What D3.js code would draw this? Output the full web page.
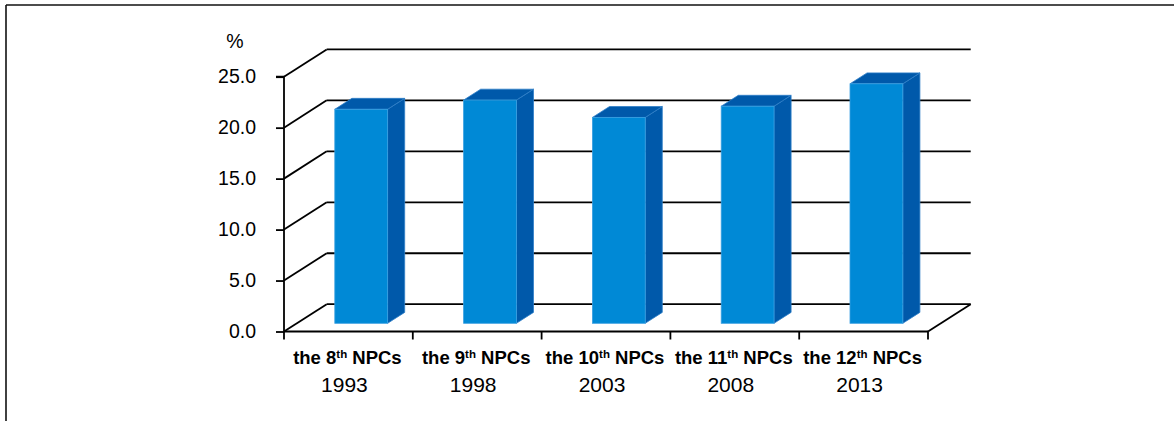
<!DOCTYPE html>
<html>
<head>
<meta charset="utf-8">
<script src="https://cdn.jsdelivr.net/npm/d3@7"></script>
<style>
  html, body { margin: 0; padding: 0; background: #fff; }
  svg { display: block; }
  text { font-family: "Liberation Sans", Arial, sans-serif; fill: #000; }
</style>
</head>
<body>
<svg id="chart" width="1174" height="421"></svg>
<script>
// ---- data ----
const ordinals = ["8", "9", "10", "11", "12"];
const years = ["1993", "1998", "2003", "2008", "2013"];
const values = [21.0, 21.9, 20.2, 21.3, 23.5];
const yTicks = [0, 5, 10, 15, 20, 25];
const yUnit = "%";

// ---- layout ----
const svg = d3.select("#chart");
const W = 1174, H = 421;
const plotLeft = 284, plotRight = 928, plotBottom = 331.5, plotTop = 76.7;
const DX = 42.7, DY = 27.3;          // depth vector of the back wall
const fFront = 0.3, fBack = 0.7;      // bar depth positions
const barFrac = 0.41;

const x = d3.scaleBand().domain(d3.range(values.length)).range([plotLeft, plotRight]).padding(0);
const y = d3.scaleLinear().domain([0, 25]).range([plotBottom, plotTop]);

// outer frame
svg.append("line").attr("x1", 6).attr("y1", 5).attr("x2", W).attr("y2", 5)
  .attr("stroke", "#111").attr("stroke-width", 1.6);
svg.append("line").attr("x1", 6).attr("y1", 5).attr("x2", 6).attr("y2", H)
  .attr("stroke", "#111").attr("stroke-width", 1.6);

const gridG = svg.append("g").attr("stroke", "#000").attr("stroke-width", 1.8).attr("fill", "none");
// back wall gridlines + side wall diagonals
yTicks.forEach(t => {
  const yy = y(t);
  gridG.append("line").attr("x1", plotLeft + DX).attr("y1", yy - DY).attr("x2", plotRight + DX).attr("y2", yy - DY);
  gridG.append("line").attr("x1", plotLeft).attr("y1", yy).attr("x2", plotLeft + DX).attr("y2", yy - DY);
});
// floor front and right edges
gridG.append("line").attr("x1", plotLeft).attr("y1", y(0)).attr("x2", plotRight).attr("y2", y(0));
gridG.append("line").attr("x1", plotRight).attr("y1", y(0)).attr("x2", plotRight + DX).attr("y2", y(0) - DY);

// y axis
const yAxis = d3.axisLeft(y).tickValues(yTicks).tickSize(8).tickPadding(20).tickFormat(d3.format(".1f"));
const yg = svg.append("g").attr("transform", `translate(${plotLeft},0)`).call(yAxis);
yg.select(".domain").attr("stroke", "#000").attr("stroke-width", 1.8).attr("d", `M-8,${y(25)}H0V${y(0)}`);
yg.selectAll(".tick line").attr("stroke", "#000").attr("stroke-width", 1.8);
yg.selectAll(".tick text").style("font-size", "19.5px").style("font-family", "Liberation Sans, Arial, sans-serif").attr("fill", "#000");

svg.append("text").attr("x", 235).attr("y", 48).attr("text-anchor", "middle")
  .style("font-size", "19.5px").text(yUnit);

// x axis ticks
const xg = svg.append("g").attr("stroke", "#000").attr("stroke-width", 1.8);
d3.range(values.length + 1).forEach(i => {
  const xx = i < values.length ? x(i) : x(values.length - 1) + x.bandwidth();
  xg.append("line").attr("x1", xx).attr("y1", y(0)).attr("x2", xx).attr("y2", y(0) + 8);
});

// bars
const bw = x.bandwidth() * barFrac;
const barG = svg.append("g");
values.forEach((v, i) => {
  const cx = x(i) + x.bandwidth() / 2;
  const x0 = cx - bw / 2, x1 = cx + bw / 2;
  const fdx = DX * fFront, fdy = DY * fFront, bdx = DX * fBack, bdy = DY * fBack;
  const yv = y(v), y0 = y(0);
  // side face
  barG.append("polygon")
    .attr("points", [[x1 + fdx, yv - fdy], [x1 + bdx, yv - bdy], [x1 + bdx, y0 - bdy], [x1 + fdx, y0 - fdy]].map(p => p.join(",")).join(" "))
    .attr("fill", "#0059AA").attr("stroke", "#2f7fc8").attr("stroke-width", 0.8);
  // top face
  barG.append("polygon")
    .attr("points", [[x0 + fdx, yv - fdy], [x0 + bdx, yv - bdy], [x1 + bdx, yv - bdy], [x1 + fdx, yv - fdy]].map(p => p.join(",")).join(" "))
    .attr("fill", "#0059AA").attr("stroke", "#2f7fc8").attr("stroke-width", 0.8);
  // front face
  barG.append("rect")
    .attr("x", x0 + fdx).attr("y", yv - fdy).attr("width", bw).attr("height", y0 - yv)
    .attr("fill", "#0089D6").attr("stroke", "#3aa0e2").attr("stroke-width", 0.8);
});

// category labels
const labG = svg.append("g");
values.forEach((v, i) => {
  const cx = x(i) + x.bandwidth() / 2;
  const t = labG.append("text").attr("x", cx - 1).attr("y", 364).attr("text-anchor", "middle")
    .style("font-size", "18.5px").style("font-weight", "bold");
  t.append("tspan").text("the " + ordinals[i]);
  t.append("tspan").attr("dy", -6).style("font-size", "11.5px").text("th");
  t.append("tspan").attr("dy", 6).text(" NPCs");
  labG.append("text").attr("x", cx - 4).attr("y", 392).attr("text-anchor", "middle")
    .style("font-size", "21px").text(years[i]);
});
</script>
</body>
</html>
